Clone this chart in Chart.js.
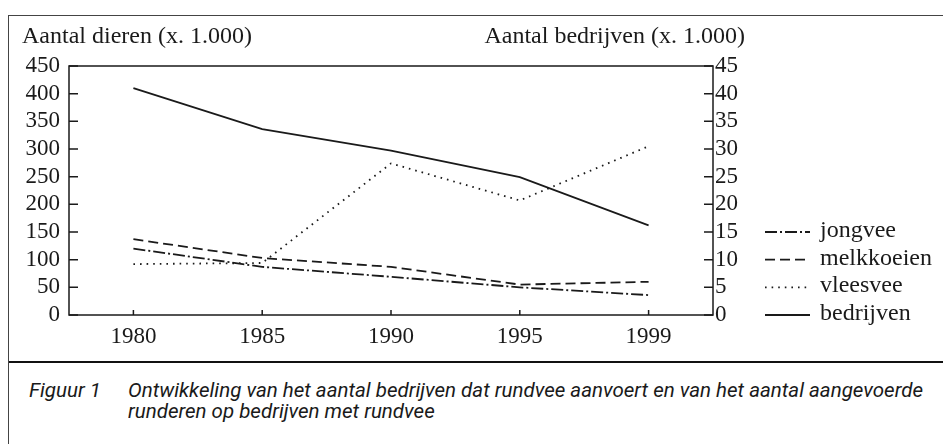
<!DOCTYPE html>
<html>
<head>
<meta charset="utf-8">
<script src="https://cdn.jsdelivr.net/npm/chart.js@4.4.1/dist/chart.umd.min.js"></script>
<style>
  body { margin: 0; background: #fff; width: 943px; height: 444px; overflow: hidden; position: relative; color: #1a1a1a; }
  .rule { position: absolute; }
  #frame-top { left: 9px; top: 15px; width: 934px; border-top: 1px solid #444; }
  #frame-left { left: 8px; top: 15px; height: 429px; border-left: 1.5px solid #444; }
  #sep { left: 9px; top: 361px; width: 934px; border-top: 2.5px solid #111; }
  #wrap { position: absolute; left: 0; top: 0; }
  .serif { font-family: "Liberation Serif", serif; font-size: 24px; line-height: 28px; white-space: nowrap; position: absolute; }
  .axis-title { top: 21px; }
  .leg { left: 820px; }
  .caption { position: absolute; top: 380px; font: italic 20px/20.5px Roboto, "DejaVu Sans", sans-serif; white-space: nowrap; transform-origin: 0 0; }
</style>
</head>
<body>
<div id="frame-top" class="rule"></div>
<div id="frame-left" class="rule"></div>
<div id="sep" class="rule"></div>
<div id="wrap"><canvas id="chart" width="943" height="360"></canvas></div>
<div class="serif axis-title" style="left:22px">Aantal dieren (x. 1.000)</div>
<div class="serif axis-title" style="right:198px">Aantal bedrijven (x. 1.000)</div>
<div id="legend"></div>
<div class="caption" id="figno" style="left:29px">Figuur 1</div>
<div class="caption" id="captext" style="left:128px">Ontwikkeling van het aantal bedrijven dat rundvee aanvoert en van het aantal aangevoerde<br>runderen op bedrijven met rundvee</div>

<script>
// values (x 1.000)
const years = ['1980', '1985', '1990', '1995', '1999'];
const jongvee = [120, 87, 69, 50, 36];
const melkkoeien = [137, 103, 87, 55, 60];
const vleesvee = [92, 94, 274, 207, 305];
const bedrijven = [41.0, 33.6, 29.7, 24.9, 16.2];   // right axis

const leftAxis = { min: 0, max: 450, step: 50 };
const rightAxis = { min: 0, max: 45, step: 5 };
// legend rows sit on these right-hand tick values
const legendRows = [15, 10, 5, 0];

const ink = '#1a1a1a';
const serif = { family: "'Liberation Serif', serif", size: 23 };

// the caption font is a condensed one: squeeze the text to the printed width
const capText = document.getElementById('captext');
const squeeze = 795 / capText.getBoundingClientRect().width;
capText.style.transform = `scaleX(${squeeze})`;
document.getElementById('figno').style.transform = `scaleX(${squeeze})`;

// box round the plot, inward tick marks and the legend samples
const framePlugin = {
  id: 'frame',
  afterDraw(chart) {
    const { ctx, chartArea: a, scales } = chart;
    ctx.save();
    ctx.strokeStyle = ink;
    ctx.lineWidth = 1.5;
    ctx.setLineDash([]);
    ctx.strokeRect(a.left, a.top, a.width, a.height);

    ctx.beginPath();
    scales.y.ticks.forEach(t => {
      const py = scales.y.getPixelForValue(t.value);
      ctx.moveTo(a.left, py);
      ctx.lineTo(a.left + 9, py);
    });
    scales.y1.ticks.forEach(t => {
      const py = scales.y1.getPixelForValue(t.value);
      ctx.moveTo(a.right, py);
      ctx.lineTo(a.right - 9, py);
    });
    scales.x.ticks.forEach((t, i) => {
      const px = scales.x.getPixelForTick(i);
      ctx.moveTo(px, a.bottom);
      ctx.lineTo(px, a.bottom - 5);
    });
    ctx.stroke();

    chart.data.datasets.forEach((ds, i) => {
      const py = scales.y1.getPixelForValue(legendRows[i]);
      ctx.lineWidth = ds.borderWidth;
      ctx.setLineDash(ds.borderDash || []);
      ctx.beginPath();
      ctx.moveTo(765, py);
      ctx.lineTo(810, py);
      ctx.stroke();
    });
    ctx.restore();
  }
};

function line(label, data, dash, axis) {
  return {
    label, data, yAxisID: axis,
    borderColor: ink, borderWidth: 1.8, borderDash: dash,
    pointRadius: 0, tension: 0, fill: false
  };
}

const chart = new Chart(document.getElementById('chart'), {
  type: 'line',
  data: {
    labels: years,
    datasets: [
      line('jongvee', jongvee, [12, 3, 2, 3], 'y'),
      line('melkkoeien', melkkoeien, [10, 5], 'y'),
      line('vleesvee', vleesvee, [1.6, 5], 'y'),
      line('bedrijven', bedrijven, [], 'y1')
    ]
  },
  options: {
    responsive: false,
    animation: false,
    layout: { padding: { top: 66, left: 0, right: 0, bottom: 0 } },
    plugins: { legend: { display: false }, tooltip: { enabled: false } },
    scales: {
      x: {
        type: 'category',
        offset: true,
        grid: { display: false, drawTicks: false },
        border: { display: false },
        ticks: { font: serif, color: ink, padding: 8, maxRotation: 0, autoSkip: false },
        afterFit(s) { s.height = 45; }
      },
      y: {
        position: 'left',
        min: leftAxis.min, max: leftAxis.max,
        grid: { display: false, drawTicks: false },
        border: { display: false },
        ticks: { stepSize: leftAxis.step, font: serif, color: ink, padding: 9, autoSkip: false },
        afterFit(s) { s.width = 69; }
      },
      y1: {
        position: 'right',
        min: rightAxis.min, max: rightAxis.max,
        grid: { display: false, drawTicks: false },
        border: { display: false },
        ticks: { stepSize: rightAxis.step, font: serif, color: ink, padding: 2, autoSkip: false },
        afterFit(s) { s.width = 230; }
      }
    }
  },
  plugins: [framePlugin]
});

// legend labels as page text, next to the samples drawn on the canvas
const legend = document.getElementById('legend');
chart.data.datasets.forEach((ds, i) => {
  const el = document.createElement('div');
  el.className = 'serif leg';
  el.textContent = ds.label;
  el.style.top = (chart.scales.y1.getPixelForValue(legendRows[i]) - 17) + 'px';
  legend.appendChild(el);
});
</script>
</body>
</html>
